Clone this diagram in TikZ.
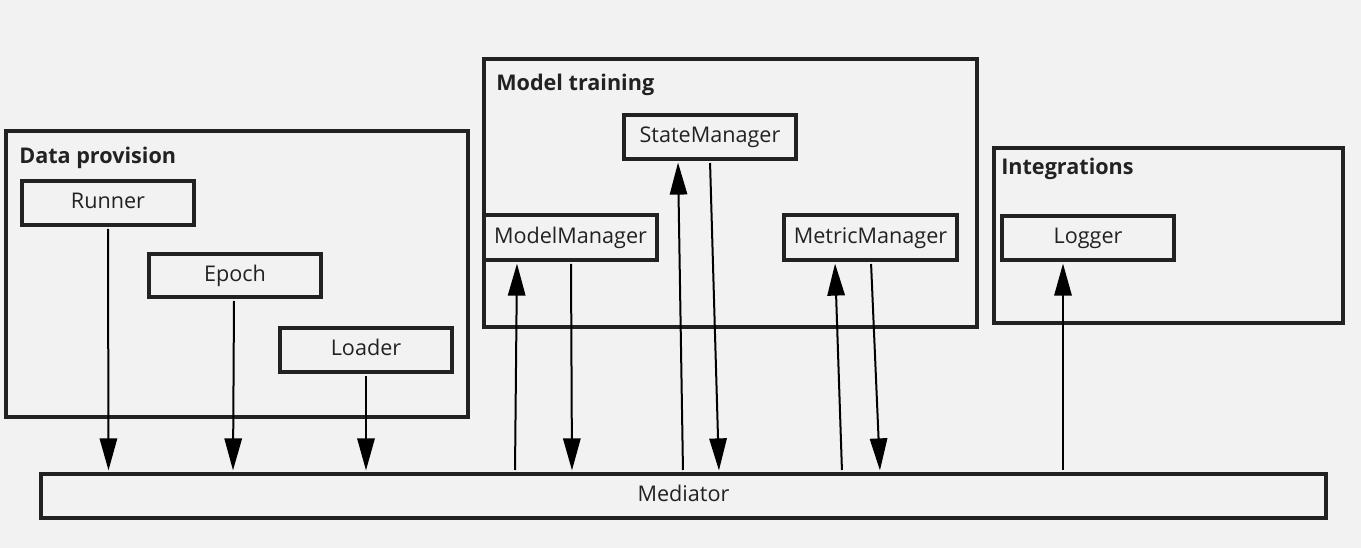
\documentclass[tikz,border=0pt]{standalone}
\usepackage{fontspec}
\setmainfont{Open Sans}
\usetikzlibrary{arrows.meta,calc}
\definecolor{bgc}{HTML}{F2F2F2}
\definecolor{linec}{HTML}{222222}
\definecolor{txtc}{HTML}{222222}
\begin{document}
\begin{tikzpicture}[x=0.75pt,y=-0.75pt,
  comp/.style={draw=linec,line width=3pt,rectangle,inner sep=0pt,
    minimum width=129pt,minimum height=33pt,text=txtc,
    text height=12pt,text depth=3pt,
    font=\fontsize{16.2}{19}\selectfont},
  grp/.style={draw=linec,line width=3pt,rectangle,inner sep=0pt},
  grptitle/.style={anchor=base west,inner sep=0pt,text=txtc,
    font=\fontsize{16.2}{19}\selectfont\bfseries},
  arr/.style={draw=black,line width=1.5pt,
    -{Triangle[length=24pt,width=13pt]},
    shorten <=1.5pt,shorten >=1.2pt}]
\fill[bgc] (0,0) rectangle (1361,548);
\useasboundingbox (0,0) rectangle (1361,548);
% groups
\node[grp,minimum width=346.5pt,minimum height=214.5pt] (dp) at (237,274) {};
\node[grp,minimum width=369.75pt,minimum height=201pt] (mt) at (730.5,193) {};
\node[grp,minimum width=261.75pt,minimum height=131.25pt] (ig) at (1168.5,235.5) {};
\node[grptitle] (dpt) at (19,164) {Data provision};
\node[grptitle] (mtt) at (496,91) {Model training};
\node[grptitle] (igt) at (1001,175) {Integrations};
% components
\node[comp] (runner) at (108,203) {Runner};
\node[comp,minimum height=32.25pt] (epoch) at (235,275.5) {Epoch};
\node[comp] (loader) at (366,350) {Loader};
\node[comp] (sm) at (710,137) {StateManager};
\node[comp,minimum width=129.75pt,minimum height=33.75pt] (mm) at (570.5,237.5) {ModelManager};
\node[comp,minimum width=129.75pt,minimum height=33.75pt] (met) at (870.5,237.5) {MetricManager};
\node[comp] (logger) at (1088,238) {Logger};
\node[comp,minimum width=963.75pt] (med) at (683.5,496) {Mediator};
% connectors
\draw[arr] (runner.south) -- ($(med.north)+(-575,0)$);
\draw[arr] ($(epoch.south)+(-1,0)$) -- ($(med.north)+(-450.5,0)$);
\draw[arr] (loader.south) -- ($(med.north)+(-317.5,0)$);
\draw[arr] ($(med.north)+(-168.5,0)$) -- ($(mm.south)+(-53.5,0)$);
\draw[arr] ($(mm.south)+(0.5,0)$) -- ($(med.north)+(-111.5,0)$);
\draw[arr] ($(med.north)+(-0.5,0)$) -- ($(sm.south)+(-32,0)$);
\draw[arr] (sm.south) -- ($(med.north)+(35.5,0)$);
\draw[arr] ($(med.north)+(158.5,0)$) -- ($(met.south)+(-35.5,0)$);
\draw[arr] ($(met.south)+(0.5,0)$) -- ($(med.north)+(196.5,0)$);
\draw[arr] ($(med.north)+(379.5,0)$) -- ($(logger.south)+(-25,0)$);
\end{tikzpicture}
\end{document}
